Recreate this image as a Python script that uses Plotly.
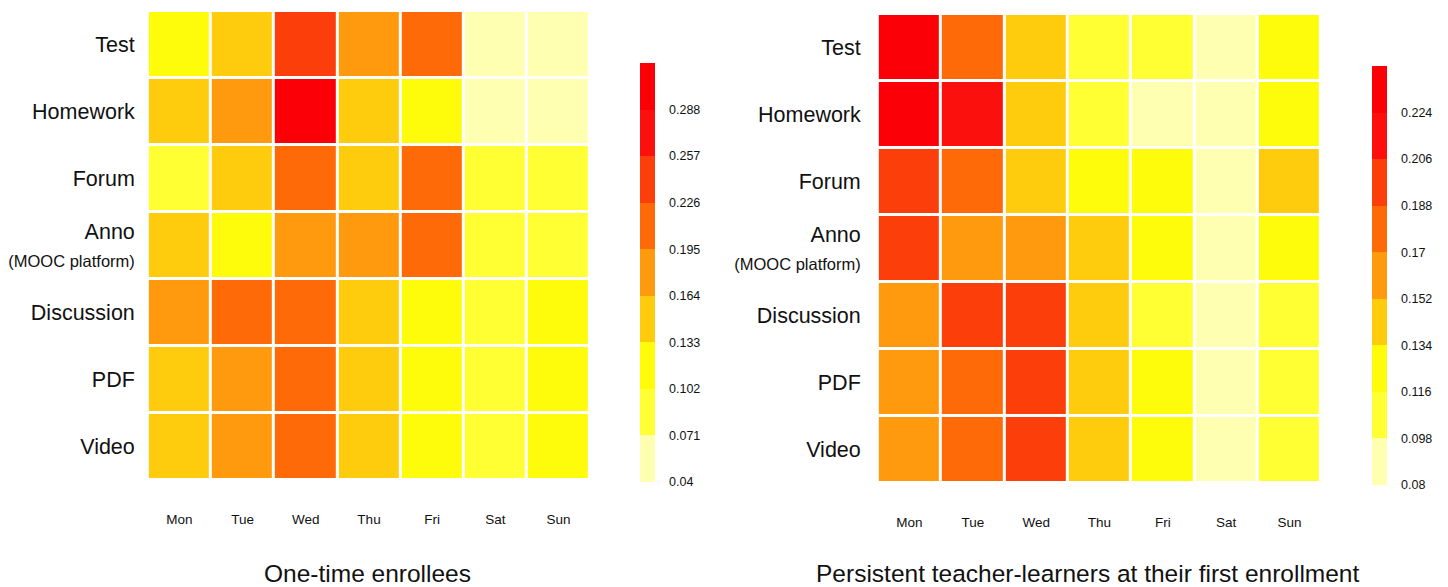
import plotly.graph_objects as go

days = ["Mon", "Tue", "Wed", "Thu", "Fri", "Sat", "Sun"]
activities = ["Test", "Homework", "Forum",
              "Anno<br><span style='font-size:16.5px'>(MOOC platform)</span>",
              "Discussion", "PDF", "Video"]

one_time = [
    [0.118, 0.150, 0.243, 0.178, 0.212, 0.052, 0.058],
    [0.147, 0.181, 0.305, 0.146, 0.115, 0.056, 0.060],
    [0.088, 0.149, 0.209, 0.152, 0.213, 0.090, 0.087],
    [0.145, 0.117, 0.183, 0.179, 0.211, 0.089, 0.086],
    [0.180, 0.212, 0.215, 0.148, 0.116, 0.092, 0.114],
    [0.151, 0.178, 0.210, 0.149, 0.113, 0.093, 0.118],
    [0.149, 0.182, 0.208, 0.152, 0.112, 0.091, 0.119],
]
persistent = [
    [0.236, 0.179, 0.143, 0.107, 0.106, 0.089, 0.125],
    [0.235, 0.216, 0.144, 0.108, 0.090, 0.088, 0.126],
    [0.197, 0.180, 0.142, 0.124, 0.123, 0.087, 0.144],
    [0.196, 0.162, 0.160, 0.143, 0.122, 0.088, 0.125],
    [0.161, 0.198, 0.199, 0.142, 0.108, 0.089, 0.107],
    [0.160, 0.181, 0.200, 0.143, 0.124, 0.090, 0.106],
    [0.162, 0.179, 0.201, 0.141, 0.123, 0.089, 0.108],
]

left_ticks = [0.04, 0.071, 0.102, 0.133, 0.164, 0.195, 0.226, 0.257, 0.288]
left_max = 0.319
right_ticks = [0.08, 0.098, 0.116, 0.134, 0.152, 0.17, 0.188, 0.206, 0.224]
right_max = 0.242

bin_colors = ["#FFFFB2", "#FFFF33", "#FFFC0B", "#FFCC0D", "#FF990D",
              "#FF6A08", "#FC3F0A", "#FC100D", "#FC0008"]

titles = ["One-time enrollees", "Persistent teacher-learners at their first enrollment"]

# page body has an 8px margin: figure is placed at (8, 8) in the window
OFF = 8
W, H = 1448 - OFF, 587 - OFF
FONT = "Liberation Sans, Arial, sans-serif"


def px(x):
    return (x - OFF) / W


def py(y):
    return 1 - (y - OFF) / H


def discrete_scale(colors):
    n = len(colors)
    sc = []
    for i, c in enumerate(colors):
        sc.append([i / n, c])
        sc.append([(i + 1) / n, c])
    return sc


def cbar(ticks, x_px, top_px):
    return dict(
        tickvals=ticks,
        ticktext=[("%g" % t) for t in ticks],
        thickness=15, thicknessmode="pixels",
        len=419, lenmode="pixels",
        x=px(x_px), xanchor="left", xpad=0,
        y=py(top_px), yanchor="top", ypad=0,
        outlinewidth=0,
        ticks="outside", ticklen=12, tickcolor="rgba(0,0,0,0)",
        tickfont=dict(family=FONT, size=12.5, color="#111"),
    )


fig = go.Figure()
fig.add_trace(go.Heatmap(
    z=one_time, x=days, y=activities,
    colorscale=discrete_scale(bin_colors), zmin=left_ticks[0], zmax=left_max,
    xgap=3, ygap=3, colorbar=cbar(left_ticks, 639, 63),
    xaxis="x", yaxis="y", hoverongaps=False,
))
fig.add_trace(go.Heatmap(
    z=persistent, x=days, y=activities,
    colorscale=discrete_scale(bin_colors), zmin=right_ticks[0], zmax=right_max,
    xgap=3, ygap=3, colorbar=cbar(right_ticks, 1372, 66),
    xaxis="x2", yaxis="y2", hoverongaps=False,
))

xcommon = dict(showgrid=False, zeroline=False, showline=False, ticks="",
               tickfont=dict(family=FONT, size=13.5, color="#111"),
               ticklabelstandoff=29)
ycommon = dict(showgrid=False, zeroline=False, showline=False, ticks="",
               autorange="reversed",
               tickfont=dict(family=FONT, size=21.5, color="#111"))

fig.update_layout(
    width=W, height=H,
    margin=dict(l=0, r=0, t=0, b=0),
    paper_bgcolor="white", plot_bgcolor="white",
    xaxis=dict(domain=[px(146), px(589)], anchor="y", **xcommon),
    yaxis=dict(domain=[py(480), py(11)], anchor="x",
               ticklabelstandoff=12, **ycommon),
    xaxis2=dict(domain=[px(877), px(1321)], anchor="y2", **xcommon),
    yaxis2=dict(domain=[py(483), py(14)], anchor="x2",
                ticklabelstandoff=16, **ycommon),
    annotations=[
        dict(text=titles[0], x=px(366), y=py(573), xref="paper", yref="paper",
             showarrow=False, xanchor="center", yanchor="middle",
             font=dict(family=FONT, size=24.5, color="#111")),
        dict(text=titles[1], x=px(1087), y=py(573), xref="paper", yref="paper",
             showarrow=False, xanchor="center", yanchor="middle",
             font=dict(family=FONT, size=24.5, color="#111")),
    ],
)

fig.write_html("out.html")
